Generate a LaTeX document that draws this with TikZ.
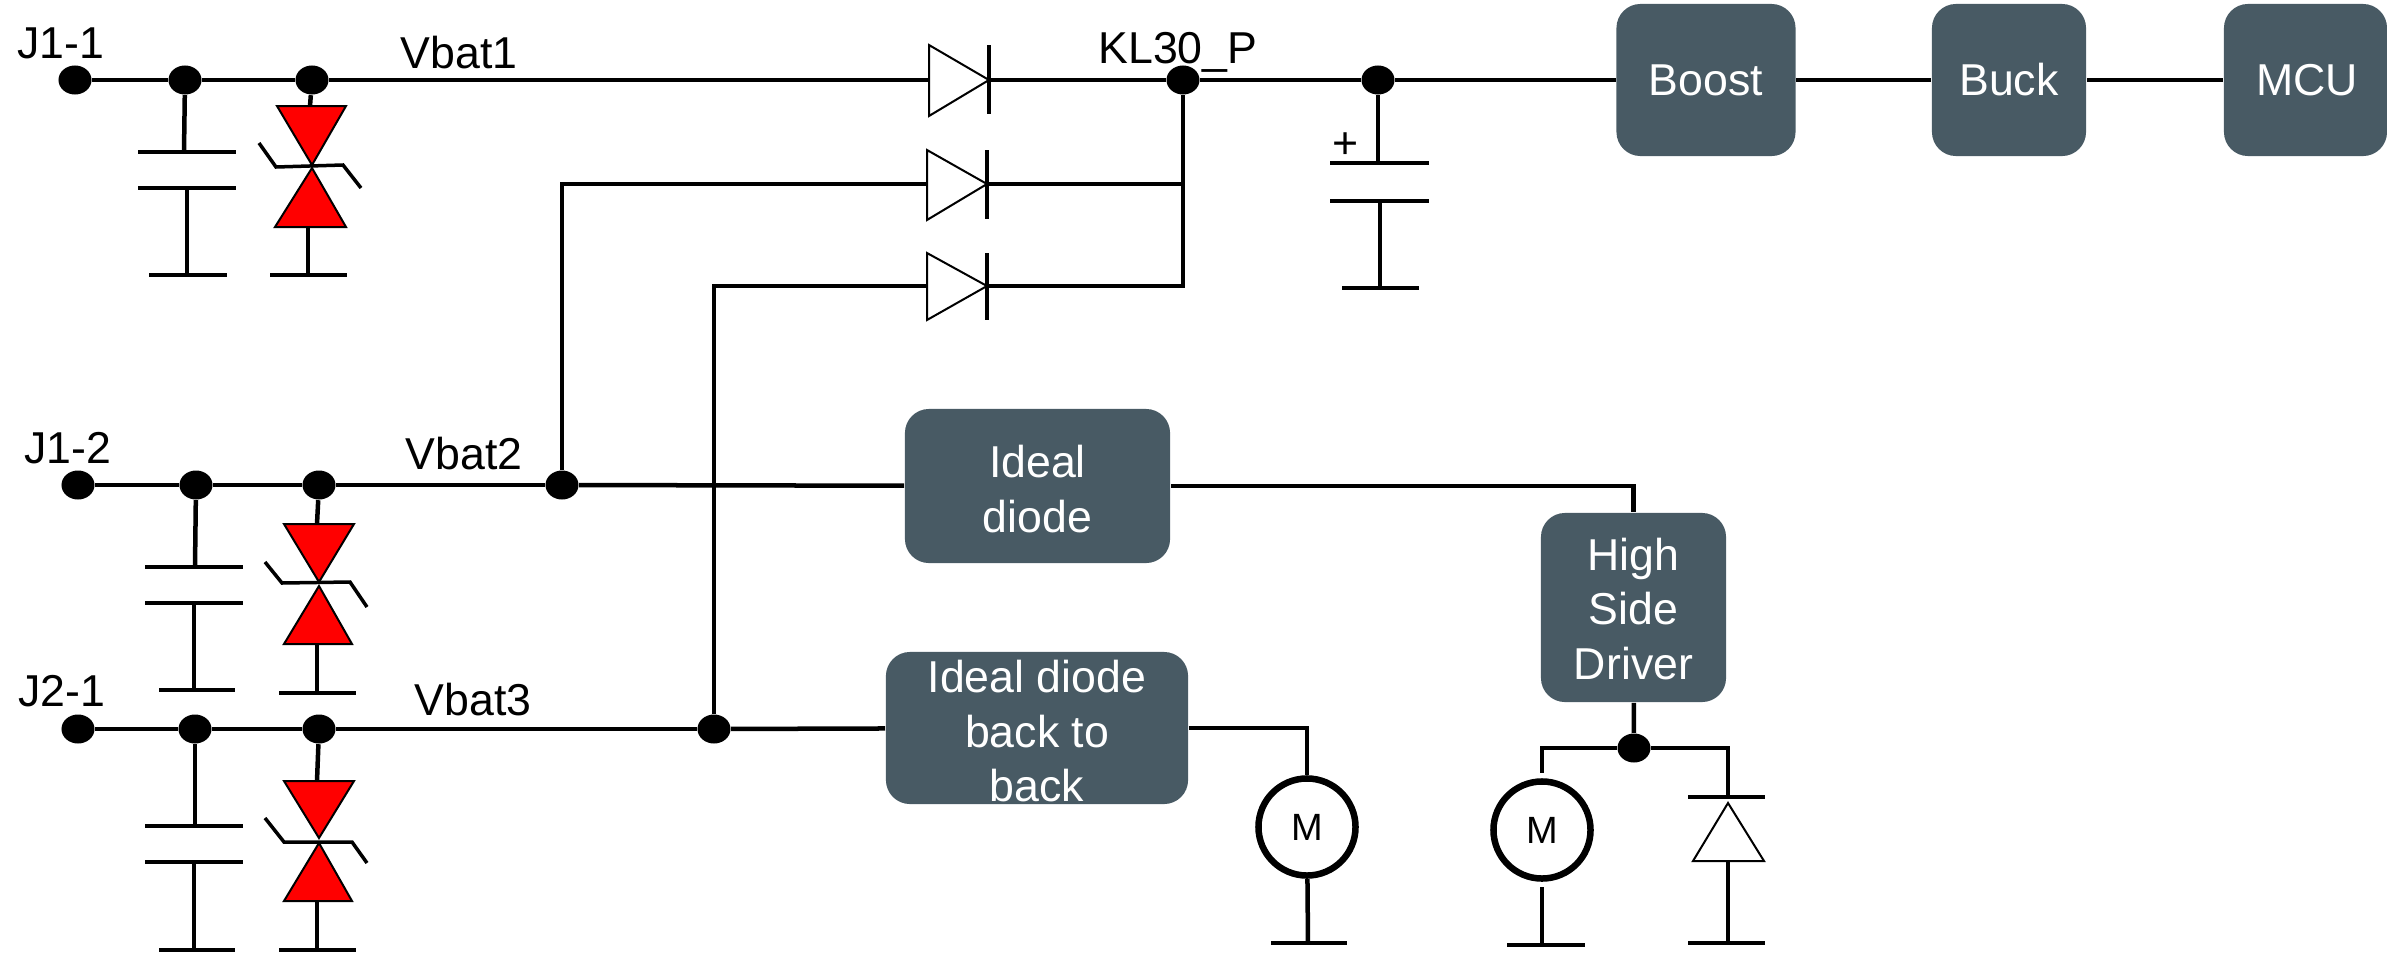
\documentclass[tikz,border=0pt]{standalone}
\usepackage{fontspec}
\setmainfont{Liberation Sans}
\usetikzlibrary{shapes.geometric}
\definecolor{boxgrey}{HTML}{485A64}
\tikzset{
	wire/.style={line width=0.045cm,draw=black},
	outline/.style={line width=0.02cm,draw=black},
	tvsfill/.style={line width=0.02cm,draw=black,fill=red},
	kink/.style={line width=0.035cm,draw=black},
	junction/.style={shape=ellipse,fill=black,inner sep=0pt,minimum width=0.33cm,minimum height=0.29cm},
	block/.style={shape=rectangle,rounded corners=0.24cm,fill=boxgrey,text=white,inner sep=0pt,align=center,font=\fontsize{12.7}{15.6}\selectfont},
	netlabel/.style={anchor=base,inner sep=0pt,font=\fontsize{12.7}{15.6}\selectfont},
	motor/.style={shape=circle,draw=black,line width=0.065cm,inner sep=0pt,minimum size=0.97cm,font=\fontsize{10.8}{13}\selectfont}
}
\begin{document}
\begin{tikzpicture}[x=0.01cm,y=-0.01cm]
	\useasboundingbox (0,0) rectangle (2387,954);

	\node[netlabel] (j11) at (61, 58)     {J1-1};
	\node[netlabel] (j12) at (68, 463)    {J1-2};
	\node[netlabel] (j21) at (62, 706)    {J2-1};
	\node[netlabel] (vbat1) at (459, 68)  {Vbat1};
	\node[netlabel] (vbat2) at (464, 469) {Vbat2};
	\node[netlabel] (vbat3) at (473, 715) {Vbat3};
	\node[netlabel] (kl30) at (1178, 63)  {KL30\_P};
	\node[netlabel] (plus) at (1346, 158) {+};

	\node[block,minimum width=1.79cm,minimum height=1.52cm] (boost) at (1706, 80) {Boost};
	\node[block,minimum width=1.54cm,minimum height=1.52cm] (buck) at (2009, 80)  {Buck};
	\node[block,minimum width=1.63cm,minimum height=1.52cm] (mcu) at (2305.5, 80) {\hspace{0.8pt}MCU};
	\node[block,minimum width=2.65cm,minimum height=1.54cm] (ideal) at (1037.5, 486) {\rule{0pt}{11pt}Ideal\\diode};
	\node[block,minimum width=3.02cm,minimum height=1.52cm] (back) at (1037, 728)    {\rule{0pt}{11pt}Ideal diode\\back to\\back};
	\node[block,minimum width=1.85cm,minimum height=1.89cm] (hsd) at (1633.5, 607.5) {\rule{0pt}{10pt}High\\Side\\Driver};

	\node[motor] (m1) at (1307, 827) {M};
	\node[motor] (m2) at (1542, 830) {M};

	\coordinate (d1a) at (929, 80);
	\coordinate (d1k) at (989, 80);
	\coordinate (d2a) at (927, 184);
	\coordinate (d2k) at (987, 184);
	\coordinate (d3a) at (927, 286);
	\coordinate (d3k) at (987, 286);

	\path[tvsfill] (277, 106) -- (346, 106) -- (312, 165) -- cycle;
	\path[tvsfill] (275, 227) -- (346, 227) -- (312, 168) -- cycle;
	\path[tvsfill] (284, 524) -- (354, 524) -- (319, 582) -- cycle;
	\path[tvsfill] (284, 644) -- (352, 644) -- (319, 586) -- cycle;
	\path[tvsfill] (284, 781) -- (354, 781) -- (319, 838) -- cycle;
	\path[tvsfill] (284, 901) -- (352, 901) -- (319, 843) -- cycle;

	\draw[kink] (259, 143) -- (276, 167) -- (343, 165) -- (361, 188);
	\draw[kink] (265, 562) -- (282, 583) -- (350, 582) -- (367, 607);
	\draw[kink] (265, 818) -- (284, 842) -- (352, 842) -- (367, 863);

	\path[outline] (929, 45) -- (989, 80) -- (929, 116) -- cycle;
	\path[outline] (927, 150) -- (987, 184) -- (927, 220) -- cycle;
	\path[outline] (927, 253) -- (987, 286) -- (927, 320) -- cycle;
	\path[outline] (1693, 861) -- (1728, 803) -- (1764, 861) -- cycle;

	\draw[wire] (989, 45) -- (989, 114);
	\draw[wire] (987, 150) -- (987, 219);
	\draw[wire] (987, 253) -- (987, 320);
	\draw[wire] (1688, 797) -- (1765, 797);

	\draw[wire] (138, 152) -- (236, 152);
	\draw[wire] (138, 188) -- (236, 188);
	\draw[wire] (149, 275) -- (227, 275);
	\draw[wire] (270, 275) -- (347, 275);
	\draw[wire] (145, 567) -- (243, 567);
	\draw[wire] (145, 603) -- (243, 603);
	\draw[wire] (159, 690) -- (235, 690);
	\draw[wire] (279, 693) -- (356, 693);
	\draw[wire] (145, 826) -- (243, 826);
	\draw[wire] (145, 862) -- (243, 862);
	\draw[wire] (159, 950) -- (235, 950);
	\draw[wire] (279, 950) -- (356, 950);
	\draw[wire] (1330, 163) -- (1429, 163);
	\draw[wire] (1330, 201) -- (1429, 201);
	\draw[wire] (1342, 288) -- (1419, 288);
	\draw[wire] (1271, 943) -- (1347, 943);
	\draw[wire] (1507, 945) -- (1585, 945);
	\draw[wire] (1688, 943) -- (1765, 943);

	\node[junction] (j11dot) at (75, 80)    {};
	\node[junction] (c1dot) at (185, 80)    {};
	\node[junction] (t1dot) at (312, 80)    {};
	\node[junction] (j12dot) at (78, 485)   {};
	\node[junction] (c2dot) at (196, 485)   {};
	\node[junction] (t2dot) at (319, 485)   {};
	\node[junction] (vb2dot) at (562, 485)  {};
	\node[junction] (j21dot) at (78, 729)   {};
	\node[junction] (c3dot) at (195, 729)   {};
	\node[junction] (t3dot) at (319, 729)   {};
	\node[junction] (vb3dot) at (714, 729)  {};
	\node[junction] (kldot) at (1183, 80)   {};
	\node[junction] (bulkdot) at (1378, 80) {};
	\node[junction] (hsddot) at (1634, 748) {};

	\coordinate (c1a) at (184, 152);
	\coordinate (c1b) at (187, 188);
	\coordinate (c1g) at (187, 275);
	\coordinate (t1a) at (310, 106);
	\coordinate (t1b) at (308, 227);
	\coordinate (t1g) at (308, 275);
	\coordinate (c2a) at (195, 567);
	\coordinate (c2b) at (194, 603);
	\coordinate (c2g) at (194, 690);
	\coordinate (t2a) at (317, 524);
	\coordinate (t2b) at (317, 644);
	\coordinate (t2g) at (317, 693);
	\coordinate (c3a) at (195, 826);
	\coordinate (c3b) at (194, 862);
	\coordinate (c3g) at (194, 950);
	\coordinate (t3a) at (317, 781);
	\coordinate (t3b) at (317, 901);
	\coordinate (t3g) at (317, 950);
	\coordinate (c4a) at (1378, 163);
	\coordinate (c4b) at (1380, 201);
	\coordinate (c4g) at (1380, 288);
	\coordinate (m1g) at (1308, 943);
	\coordinate (m2a) at (1542, 773);
	\coordinate (m2b) at (1542, 887);
	\coordinate (m2g) at (1542, 945);
	\coordinate (d4k) at (1728, 797);
	\coordinate (d4a) at (1728, 861);
	\coordinate (d4g) at (1728, 943);

	\draw[wire] (j11dot) -- (c1dot);
	\draw[wire] (c1dot) -- (t1dot);
	\draw[wire] (t1dot) -- (d1a);
	\draw[wire] (d1k) -- (kldot);
	\draw[wire] (kldot) -- (bulkdot);
	\draw[wire] (bulkdot) -- (boost);
	\draw[wire] (boost) -- (buck);
	\draw[wire] (buck) -- (mcu);
	\draw[wire] (c1dot) -- (c1a);
	\draw[wire] (c1b) -- (c1g);
	\draw[wire] (t1dot) -- (t1a);
	\draw[wire] (t1b) -- (t1g);
	\draw[wire] (bulkdot) -- (c4a);
	\draw[wire] (c4b) -- (c4g);
	\draw[wire] (kldot) |- (d3k);
	\draw[wire] (d2k) -- (d2k -| kldot);

	\draw[wire] (j12dot) -- (c2dot);
	\draw[wire] (c2dot) -- (t2dot);
	\draw[wire] (t2dot) -- (vb2dot);
	\draw[wire] (vb2dot) -- (ideal);
	\draw[wire] (vb2dot) |- (d2a);
	\draw[wire] (ideal.east) -| (hsd.north);
	\draw[wire] (c2dot) -- (c2a);
	\draw[wire] (c2b) -- (c2g);
	\draw[wire] (t2dot) -- (t2a);
	\draw[wire] (t2b) -- (t2g);

	\draw[wire] (j21dot) -- (c3dot);
	\draw[wire] (c3dot) -- (t3dot);
	\draw[wire] (t3dot) -- (vb3dot);
	\draw[wire] (vb3dot) -- (back);
	\draw[wire] (vb3dot) |- (d3a);
	\draw[wire] (back.east) -| (m1.north);
	\draw[wire] (m1) -- (m1g);
	\draw[wire] (c3dot) -- (c3a);
	\draw[wire] (c3b) -- (c3g);
	\draw[wire] (t3dot) -- (t3a);
	\draw[wire] (t3b) -- (t3g);

	\draw[wire] (hsd) -- (hsddot);
	\draw[wire] (hsddot) -| (m2a);
	\draw[wire] (hsddot) -| (d4k);
	\draw[wire] (m2b) -- (m2g);
	\draw[wire] (d4a) -- (d4g);
\end{tikzpicture}
\end{document}
